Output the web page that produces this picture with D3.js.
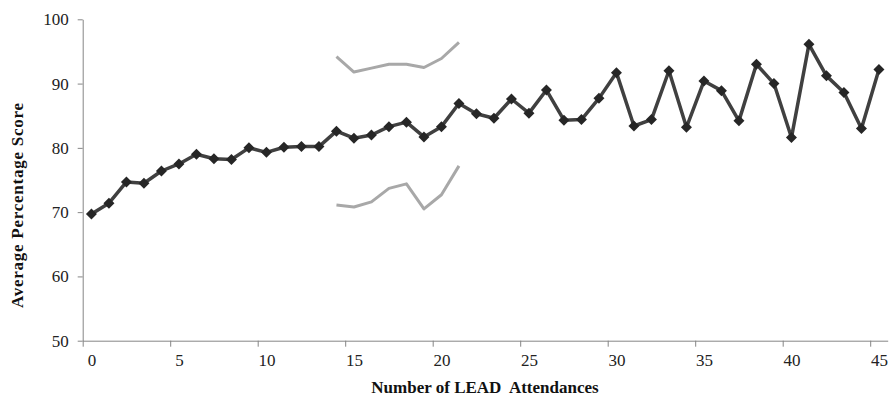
<!DOCTYPE html>
<html>
<head>
<meta charset="utf-8">
<script src="https://cdn.jsdelivr.net/npm/d3@7"></script>
<style>
  body { margin: 0; background: #fff; }
  svg { display: block; }
  .axis path, .axis line { stroke: #868686; }
  .axis text { font-family: "Liberation Serif", "Times New Roman", serif; font-size: 17px; fill: #222; }
  .title { font-family: "Liberation Serif", "Times New Roman", serif; font-size: 17px; font-weight: bold; fill: #111; }
</style>
</head>
<body>
<div id="chart"></div>
<script>
// attendances 0..45
const attendances = d3.range(0, 46);
const avgScores = [69.7, 71.4, 74.7, 74.5, 76.4, 77.5, 79.0, 78.3, 78.2, 80.0,
                   79.3, 80.1, 80.2, 80.2, 82.6, 81.5, 82.0, 83.3, 84.0, 81.7,
                   83.3, 86.9, 85.3, 84.6, 87.6, 85.4, 89.0, 84.3, 84.4, 87.7,
                   91.7, 83.4, 84.4, 92.0, 83.2, 90.4, 88.9, 84.2, 93.0, 90.0,
                   81.6, 96.1, 91.2, 88.6, 83.0, 92.2];
// grey band lines, attendances 14..21
const bandX = [14, 15, 16, 17, 18, 19, 20, 21];
const bandUpper = [94.2, 91.8, 92.4, 93.0, 93.0, 92.5, 93.9, 96.4];
const bandLower = [71.1, 70.8, 71.6, 73.7, 74.4, 70.5, 72.7, 77.2];
const yTicks = [50, 60, 70, 80, 90, 100];
const xLabels = [0, 5, 10, 15, 20, 25, 30, 35, 40, 45];

const width = 890, height = 396;
const margin = {left: 82.7, right: 2.3, top: 19.3, bottom: 55.3};

const svg = d3.select("#chart").append("svg")
    .attr("width", width)
    .attr("height", height);

// category axis: each attendance gets a slot, points in the slot centre
const x = d3.scaleLinear()
    .domain([-0.5, 45.5])
    .range([margin.left, width - margin.right]);
const y = d3.scaleLinear()
    .domain([50, 100])
    .range([height - margin.bottom, margin.top]);

// x axis: tick marks on slot edges, labels in slot centres
svg.append("g")
    .attr("class", "axis")
    .attr("transform", `translate(0,${y(50)})`)
    .call(d3.axisBottom(x).tickValues(xLabels.map(d => d - 0.5)).tickSize(6).tickSizeOuter(0).tickFormat(""));
svg.append("g")
    .attr("class", "axis")
    .attr("transform", `translate(0,${y(50)})`)
    .call(d3.axisBottom(x).tickValues(xLabels).tickSize(0).tickPadding(13).tickFormat(d3.format("d")))
    .call(g => g.select(".domain").remove());

svg.append("g")
    .attr("class", "axis")
    .attr("transform", `translate(${margin.left},0)`)
    .call(d3.axisLeft(y).tickValues(yTicks).tickSize(5).tickSizeOuter(0).tickPadding(9));

svg.selectAll(".axis path").attr("stroke-width", 1);

const line = d3.line()
    .x(d => x(d[0]))
    .y(d => y(d[1]));

// grey band
[bandUpper, bandLower].forEach(vals => {
    svg.append("path")
        .datum(bandX.map((a, i) => [a, vals[i]]))
        .attr("fill", "none")
        .attr("stroke", "#a8a8a8")
        .attr("stroke-width", 3)
        .attr("stroke-linejoin", "round")
        .attr("d", line);
});

const pts = attendances.map((a, i) => [a, avgScores[i]]);

svg.append("path")
    .datum(pts)
    .attr("fill", "none")
    .attr("stroke", "#404040")
    .attr("stroke-width", 3.5)
    .attr("stroke-linejoin", "round")
    .attr("d", line);

const r = 5.5;
svg.append("g").selectAll("path")
    .data(pts)
    .join("path")
    .attr("transform", d => `translate(${x(d[0])},${y(d[1])})`)
    .attr("d", `M0,${-r}L${r},0L0,${r}L${-r},0Z`)
    .attr("fill", "#262626");

// titles
svg.append("text")
    .attr("class", "title")
    .attr("x", 485)
    .attr("y", 393)
    .attr("text-anchor", "middle")
    .text("Number of LEAD  Attendances")
    .style("white-space", "pre");

svg.append("text")
    .attr("class", "title")
    .attr("transform", "translate(23,205.5) rotate(-90)")
    .attr("text-anchor", "middle")
    .attr("textLength", 205)
    .attr("lengthAdjust", "spacing")
    .text("Average Percentage Score");
</script>
</body>
</html>
